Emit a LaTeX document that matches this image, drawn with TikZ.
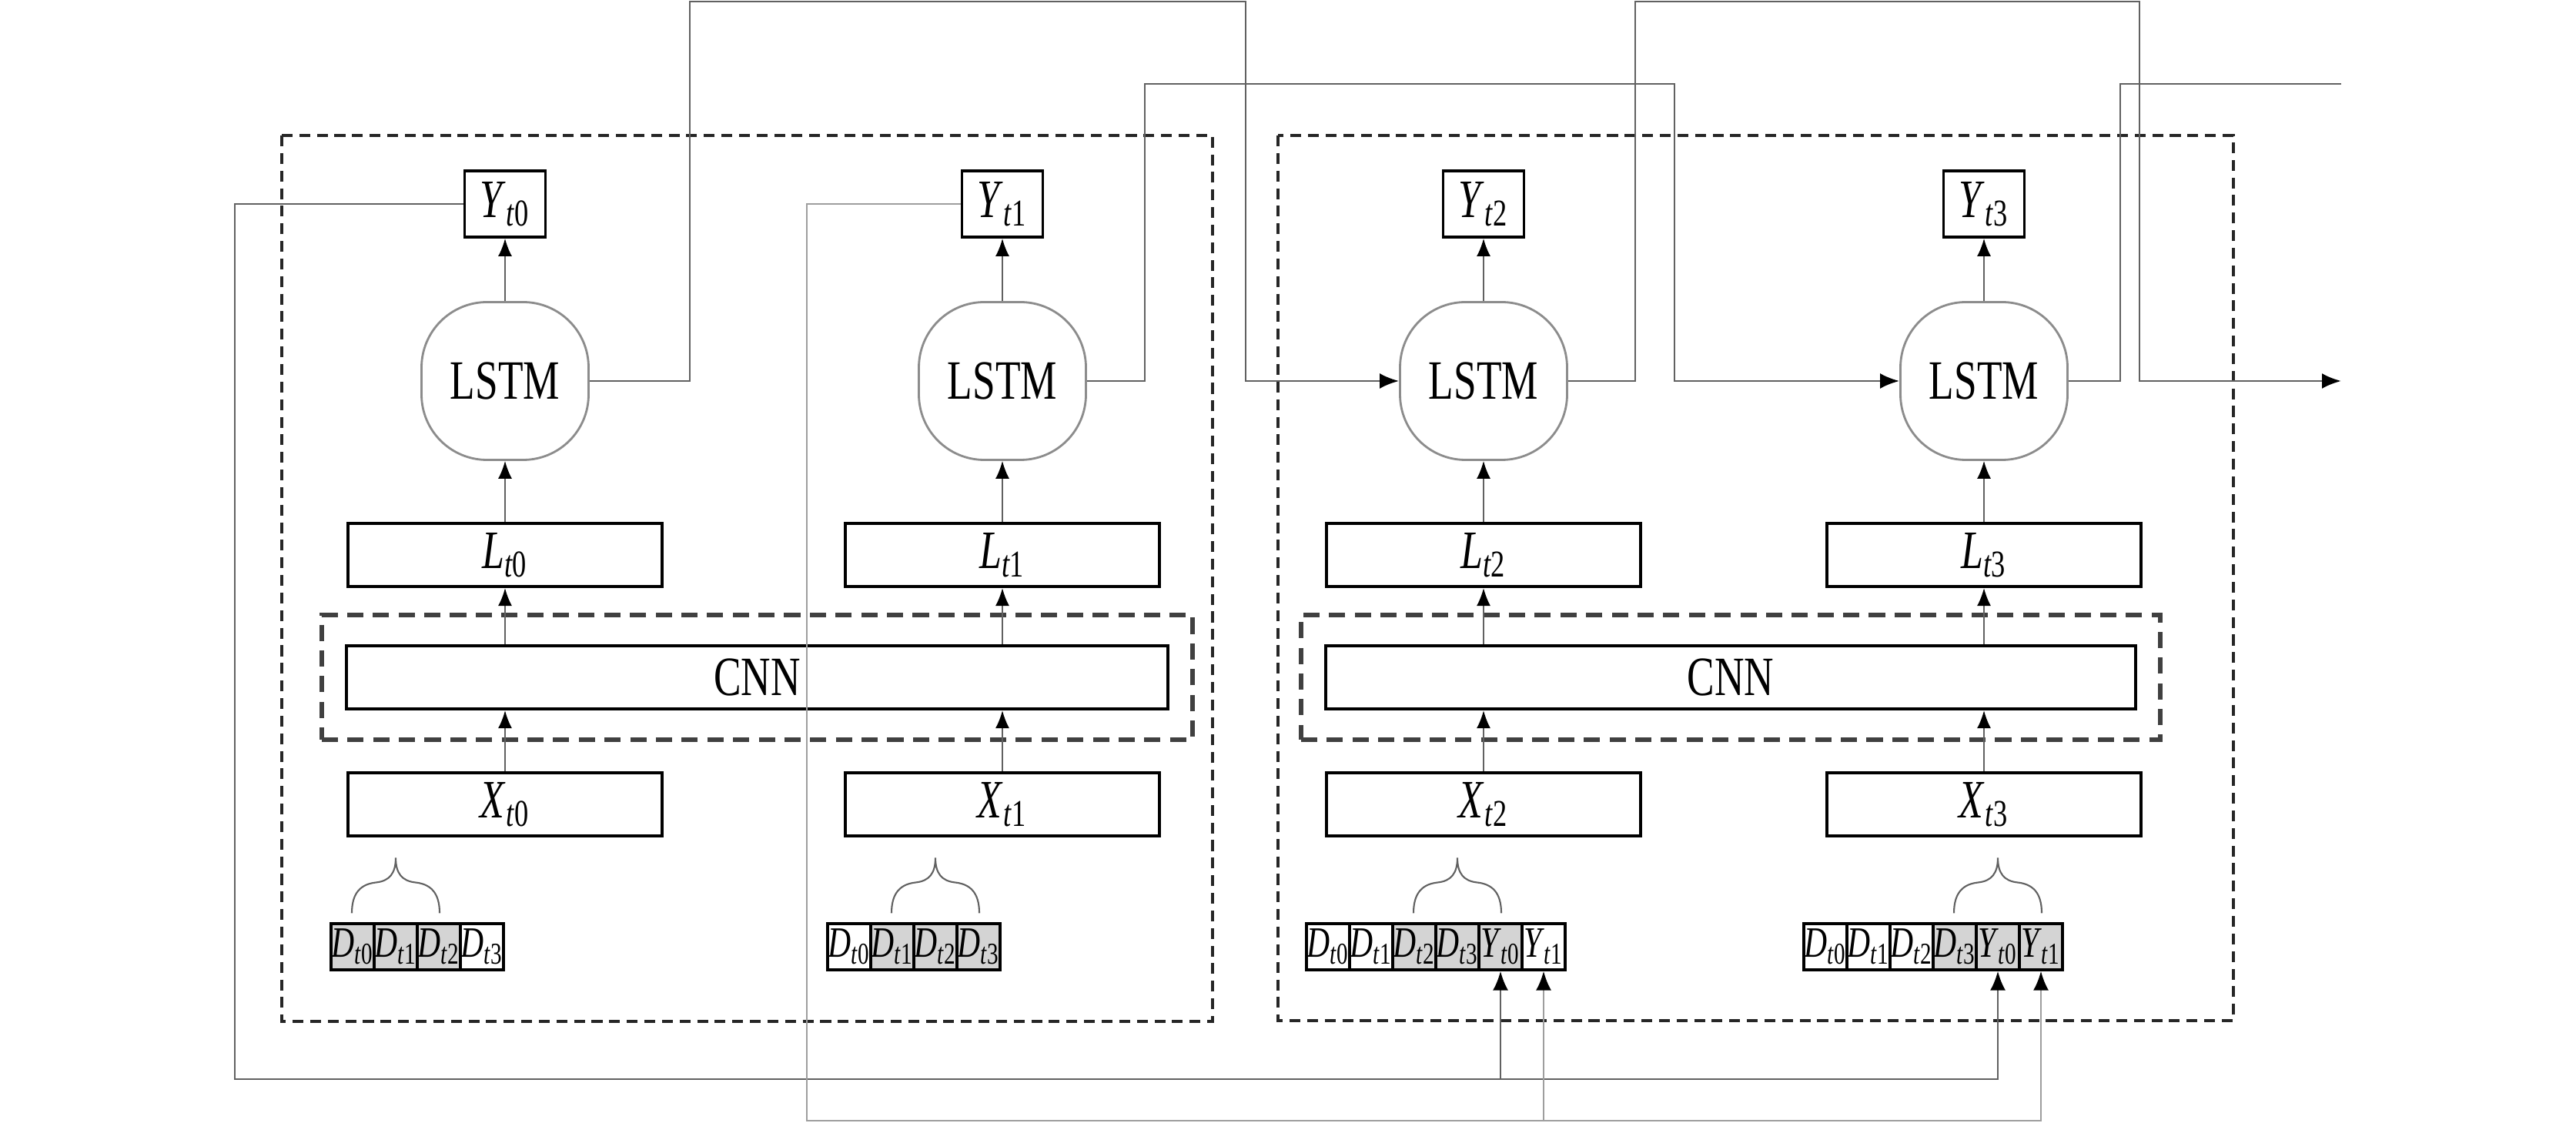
\documentclass[tikz,border=0pt]{standalone}
\usepackage{fontspec}
\setmainfont{Liberation Serif}[FakeStretch=0.74]
\usetikzlibrary{positioning,arrows.meta,fit,calc}
\definecolor{wiregray}{gray}{0.38}
\definecolor{wirelight}{gray}{0.62}
\definecolor{lstmgray}{gray}{0.55}
\definecolor{cellgray}{gray}{0.83}
\newcommand{\tvar}[2]{\textit{#1}\textsubscript{\textit{t}#2}}
\newcommand{\labfont}{\fontsize{20}{23}\selectfont}
\newcommand{\blockfont}{\fontsize{20.5}{24}\selectfont}
\tikzset{
  flowarrow/.style={-{Latex[length=2.3mm, width=1.8mm, color=black]}, line width=0.5pt, draw=wiregray},
  loopwire/.style={-{Latex[length=2.5mm, width=2mm, color=black]}, line width=0.8pt, draw=wiregray},
  fbwire/.style={-{Latex[length=2.5mm, width=2mm, color=black]}, line width=0.8pt, draw=wiregray},
  layerbox/.style={draw, line width=1.2pt, minimum width=4.08cm, minimum height=0.82cm, inner sep=0, font=\labfont},
  outbox/.style={draw, line width=1.1pt, minimum width=1.05cm, minimum height=0.86cm, inner sep=0, font=\labfont},
  lstmnode/.style={draw=lstmgray, line width=0.8pt, rounded corners=0.85cm, minimum width=2.17cm, minimum height=2.05cm, font=\blockfont},
  cellnode/.style={draw, line width=0.9pt, minimum width=0.56cm, minimum height=0.6cm, inner sep=0, font=\fontsize{16}{18}\selectfont},
  outerframe/.style={draw=black!85, line width=0.9pt, dash pattern=on 4pt off 2.5pt},
  cnnframe/.style={draw=black!75, line width=1.6pt, dash pattern=on 6pt off 3.5pt, inner xsep=0.3cm, inner ysep=0.38cm},
  upbrace/.pic={
    \draw[line width=0.6pt, draw=wiregray] (-0.57,0) .. controls (-0.57,0.27) and (-0.45,0.38) .. (-0.25,0.40)
      .. controls (-0.08,0.42) and (0,0.52) .. (0,0.72)
      .. controls (0,0.52) and (0.08,0.42) .. (0.25,0.40)
      .. controls (0.45,0.38) and (0.57,0.27) .. (0.57,0);
  }
}

\begin{document}
\begin{tikzpicture}
  \useasboundingbox (0,0) rectangle (33.46,-14.59);

  % the two time-step groups
  \draw[outerframe] (3.66,-1.76) rectangle (15.75,-13.27);
  \draw[outerframe] (16.60,-1.76) rectangle (29.01,-13.26);

  % shared convolution blocks
  \node[layerbox, minimum width=10.67cm, font=\blockfont] (cnnA) at (9.835,-8.80) {CNN};
  \node[layerbox, minimum width=10.52cm, font=\blockfont] (cnnB) at (22.48,-8.80) {CNN};
  \node[cnnframe, fit=(cnnA)] (cnnAframe) {};
  \node[cnnframe, fit=(cnnB)] (cnnBframe) {};

  % one column per time step
  \foreach \n/\cx/\cnn in {0/6.56/cnnA, 1/13.02/cnnA, 2/19.27/cnnB, 3/25.77/cnnB} {
    \node[outbox] (y\n) at (\cx,-2.65) {\tvar{Y}{\n}};
    \node[lstmnode] (lstm\n) at (\cx,-4.95) {LSTM};
    \node[layerbox] (l\n) at (\cx,-7.21) {\tvar{L}{\n}};
    \node[layerbox] (x\n) at (\cx,-10.45) {\tvar{X}{\n}};
    \draw[flowarrow] (lstm\n) -- (y\n);
    \draw[flowarrow] (l\n) -- (lstm\n);
    \draw[flowarrow] (\cnn.north -| l\n) -- (l\n);
    \draw[flowarrow] (x\n) -- (\cnn.south -| x\n);
  }

  % input windows
  \foreach \v/\k/\fl [count=\i from 0] in {D/0/cellgray, D/1/cellgray, D/2/cellgray, D/3/white}
    \node[cellnode, fill=\fl] (a0-\i) at ({4.30+0.56*\i+0.28},-12.30) {\tvar{\v}{\k}};
  \foreach \v/\k/\fl [count=\i from 0] in {D/0/white, D/1/cellgray, D/2/cellgray, D/3/cellgray}
    \node[cellnode, fill=\fl] (a1-\i) at ({10.75+0.56*\i+0.28},-12.30) {\tvar{\v}{\k}};
  \foreach \v/\k/\fl [count=\i from 0] in {D/0/white, D/1/white, D/2/cellgray, D/3/cellgray, Y/0/cellgray, Y/1/white}
    \node[cellnode, fill=\fl] (a2-\i) at ({16.97+0.56*\i+0.28},-12.30) {\tvar{\v}{\k}};
  \foreach \v/\k/\fl [count=\i from 0] in {D/0/white, D/1/white, D/2/white, D/3/cellgray, Y/0/cellgray, Y/1/cellgray}
    \node[cellnode, fill=\fl] (a3-\i) at ({23.43+0.56*\i+0.28},-12.30) {\tvar{\v}{\k}};

  \pic at ([yshift=1.2mm]a0-1.north) {upbrace};
  \pic at ([yshift=1.2mm]a1-2.north) {upbrace};
  \pic at ([yshift=1.2mm]a2-3.north) {upbrace};
  \pic at ([yshift=1.2mm]a3-4.north) {upbrace};

  % hidden state passed on
  \coordinate (outA) at (30.41,-4.95);
  \coordinate (outB) at (30.41,-1.09);
  \draw[loopwire] (lstm0.east) -- ++(1.30,0) |- (16.18,-0.02) |- (lstm2.west);
  \draw[loopwire] (lstm1.east) -- ++(0.75,0) |- (21.75,-1.09) |- (lstm3.west);
  \draw[loopwire] (lstm2.east) -- ++(0.87,0) |- (27.79,-0.02) |- (outA);
  \draw[loopwire, -] (lstm3.east) -- ++(0.67,0) |- (outB);

  % predictions fed back as inputs
  \coordinate (fbA) at (3.05,-14.02);
  \coordinate (fbB) at (10.48,-14.56);
  \draw[fbwire] (y0.west) -| (fbA) -| (a3-4.south);
  \draw[fbwire] (a2-4 |- fbA) -- (a2-4.south);
  \draw[fbwire, draw=wirelight] (y1.west) -| (fbB) -| (a3-5.south);
  \draw[fbwire, draw=wirelight] (a2-5 |- fbB) -- (a2-5.south);
\end{tikzpicture}
\end{document}
